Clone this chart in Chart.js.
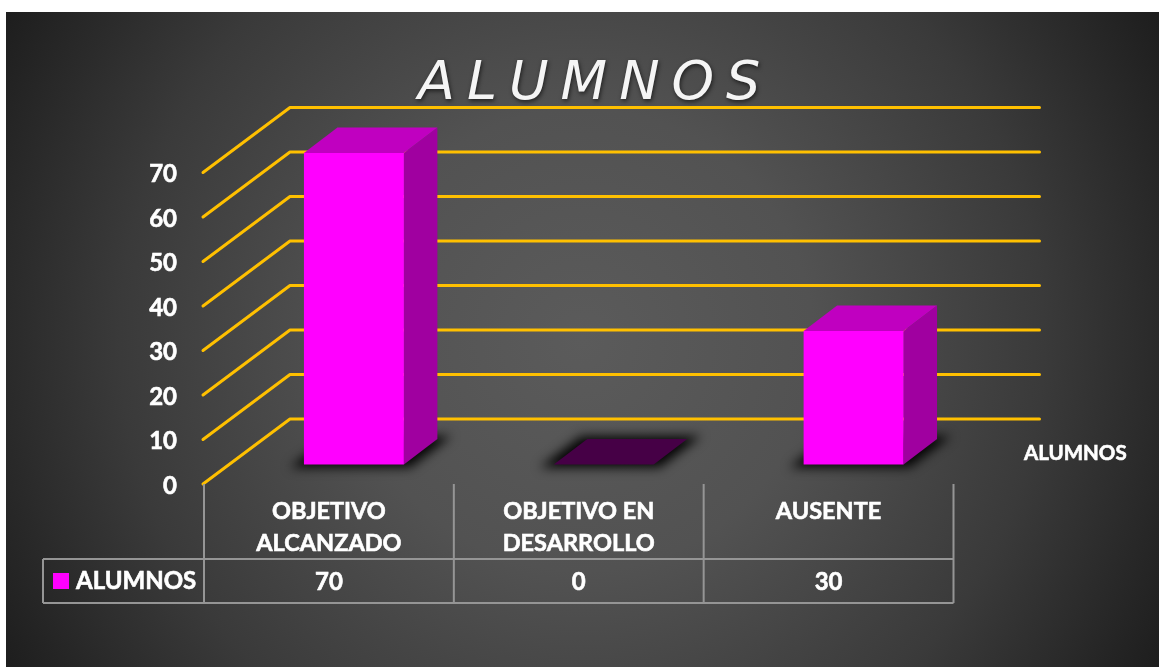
<!DOCTYPE html>
<html>
<head>
<meta charset="utf-8">
<style>html,body{margin:0;padding:0;background:#fff}canvas{display:block}</style>
<script src="https://cdn.jsdelivr.net/npm/chart.js@4/dist/chart.umd.min.js"></script>
</head>
<body>
<canvas id="c" width="1159" height="667"></canvas>
<script>
const categories = [["OBJETIVO","ALCANZADO"],["OBJETIVO EN","DESARROLLO"],["AUSENTE"]];
const seriesName = "ALUMNOS";
const values = [70, 0, 30];
const yTicks = [0,10,20,30,40,50,60,70];
const titleText = "ALUMNOS";

const FONT = "Lato, Carlito, sans-serif";
const WALL = {dx: 86, dy: -65};
const BAR_SHIFT = {dx: 25, dy: -19.5};
const BAR_DEPTH = {dx: 33.5, dy: -25.5};
const LINE_GOLD = "#FFC000";
const TABLE_LINE = "#959595";

function poly(ctx, pts){
  ctx.beginPath();
  pts.forEach((p,i)=> i ? ctx.lineTo(p[0],p[1]) : ctx.moveTo(p[0],p[1]));
  ctx.closePath();
}

function boldText(ctx, s, x, y){
  ctx.fillText(s,x,y);
  ctx.strokeText(s,x,y);
}

const background = {
  id:"background",
  beforeDraw(chart){
    const ctx = chart.ctx;
    ctx.save();
    const g = ctx.createRadialGradient(582,340,0,582,340,660);
    g.addColorStop(0,"#5B5B5B");
    g.addColorStop(0.35,"#525252");
    g.addColorStop(0.7,"#3A3A3A");
    g.addColorStop(1,"#1E1E1E");
    ctx.fillStyle = g;
    ctx.fillRect(6,12,1153,655);
    ctx.restore();
  }
};

const wall = {
  id:"wall",
  beforeDatasetsDraw(chart){
    const {ctx, scales:{x,y}} = chart;
    ctx.save();
    ctx.strokeStyle = LINE_GOLD;
    ctx.lineWidth = 3;
    ctx.lineCap = "round";
    ctx.lineJoin = "round";
    yTicks.forEach(t=>{
      const py = y.getPixelForValue(t);
      ctx.beginPath();
      ctx.moveTo(x.left-1, py);
      ctx.lineTo(x.left+WALL.dx, py+WALL.dy);
      ctx.lineTo(x.right+WALL.dx, py+WALL.dy);
      ctx.stroke();
    });
    ctx.restore();
  }
};

const solid = {
  id:"solid",
  beforeDatasetDraw(chart,args){
    const ctx = chart.ctx;
    const bars = args.meta.data;
    ctx.save();
    ctx.translate(BAR_SHIFT.dx, BAR_SHIFT.dy);
    const D = BAR_DEPTH;
    bars.forEach((b,i)=>{
      const p = b.getProps(["x","y","base","width"],true);
      const l = p.x-p.width/2, r = p.x+p.width/2, top = p.y, base = p.base;
      // soft shadow on the floor: only the blur of an off-canvas shape lands here
      ctx.save();
      ctx.shadowColor = "rgba(0,0,0,0.95)";
      ctx.shadowBlur = 11;
      ctx.shadowOffsetX = 3000;
      ctx.fillStyle = "#000";
      poly(ctx,[[l-14-3000,base+3],[r+6-3000,base+3],[r+D.dx+14-3000,base+D.dy-3],[l+D.dx-6-3000,base+D.dy-3]]);
      ctx.fill();
      ctx.restore();
      if(values[i]===0){
        ctx.fillStyle = "#460046";
        poly(ctx,[[l,base],[r,base],[r+D.dx,base+D.dy],[l+D.dx,base+D.dy]]);
        ctx.fill();
        return;
      }
      ctx.fillStyle = "#A000A0";
      poly(ctx,[[r,top],[r+D.dx,top+D.dy],[r+D.dx,base+D.dy],[r,base]]);
      ctx.fill();
      ctx.fillStyle = "#C000C0";
      poly(ctx,[[l,top],[l+D.dx,top+D.dy],[r+D.dx,top+D.dy],[r,top]]);
      ctx.fill();
    });
  },
  afterDatasetDraw(chart){
    chart.ctx.restore();
  }
};

const overlay = {
  id:"overlay",
  afterDraw(chart){
    const {ctx, scales:{x}} = chart;
    const band = (x.right-x.left)/categories.length;
    const rowTop = 559, rowBot = 603, axisY = chart.chartArea.bottom;
    ctx.save();
    // data table
    ctx.strokeStyle = TABLE_LINE;
    ctx.lineWidth = 2;
    ctx.beginPath();
    for(let i=0;i<=categories.length;i++){
      const px = x.left+band*i;
      ctx.moveTo(px,axisY); ctx.lineTo(px,rowBot);
    }
    ctx.moveTo(43,rowTop); ctx.lineTo(x.right,rowTop);
    ctx.moveTo(43,rowBot); ctx.lineTo(x.right,rowBot);
    ctx.moveTo(43,rowTop); ctx.lineTo(43,rowBot);
    ctx.stroke();
    ctx.fillStyle = "#FF00FF";
    ctx.fillRect(53,573,16,16);
    ctx.fillStyle = "#fff";
    ctx.strokeStyle = "#fff";
    ctx.lineWidth = 0.6;
    ctx.font = "bold 24px "+FONT;
    ctx.textBaseline = "middle";
    ctx.textAlign = "left";
    boldText(ctx,seriesName,76,581);
    ctx.textAlign = "center";
    values.forEach((v,i)=> boldText(ctx,String(v), x.getPixelForValue(i), 582));
    // legend
    ctx.font = "bold 20.5px "+FONT;
    ctx.textAlign = "left";
    boldText(ctx,seriesName,1024,453);
    // title
    ctx.save();
    ctx.font = "italic 200 54px 'DejaVu Sans'";
    ctx.letterSpacing = "12px";
    ctx.textAlign = "left";
    ctx.textBaseline = "alphabetic";
    ctx.shadowColor = "rgba(0,0,0,0.6)";
    ctx.shadowBlur = 4;
    ctx.shadowOffsetX = 1;
    ctx.shadowOffsetY = 2;
    ctx.fillStyle = "#F5F5F5";
    ctx.fillText(titleText,418,99);
    ctx.restore();
    ctx.restore();
  }
};

new Chart(document.getElementById("c"),{
  type:"bar",
  data:{
    labels:categories,
    datasets:[{
      label:seriesName,
      data:values,
      backgroundColor:"#FF00FF",
      barPercentage:0.4,
      categoryPercentage:1,
      clip:false
    }]
  },
  options:{
    responsive:false,
    animation:false,
    events:[],
    layout:{padding:{top:172.5,right:205.5,left:0,bottom:0}},
    plugins:{legend:{display:false},title:{display:false},tooltip:{enabled:false}},
    scales:{
      x:{
        grid:{display:false,drawTicks:false},
        border:{display:false},
        ticks:{color:"#fff",font:{family:FONT,weight:"bold",size:23.5,lineHeight:1.4},textStrokeColor:"#fff",textStrokeWidth:0.6,padding:10.5,maxRotation:0,autoSkip:false},
        afterFit(s){s.height=183;}
      },
      y:{
        min:0,max:70,
        afterBuildTicks(s){s.ticks=yTicks.map(v=>({value:v}));},
        grid:{display:false,drawTicks:false},
        border:{display:false},
        ticks:{color:"#fff",font:{family:FONT,weight:"bold",size:24},textStrokeColor:"#fff",textStrokeWidth:0.6,padding:27,labelOffset:2},
        afterFit(s){s.width=204;}
      }
    }
  },
  plugins:[background,wall,solid,overlay]
});
</script>
</body>
</html>
